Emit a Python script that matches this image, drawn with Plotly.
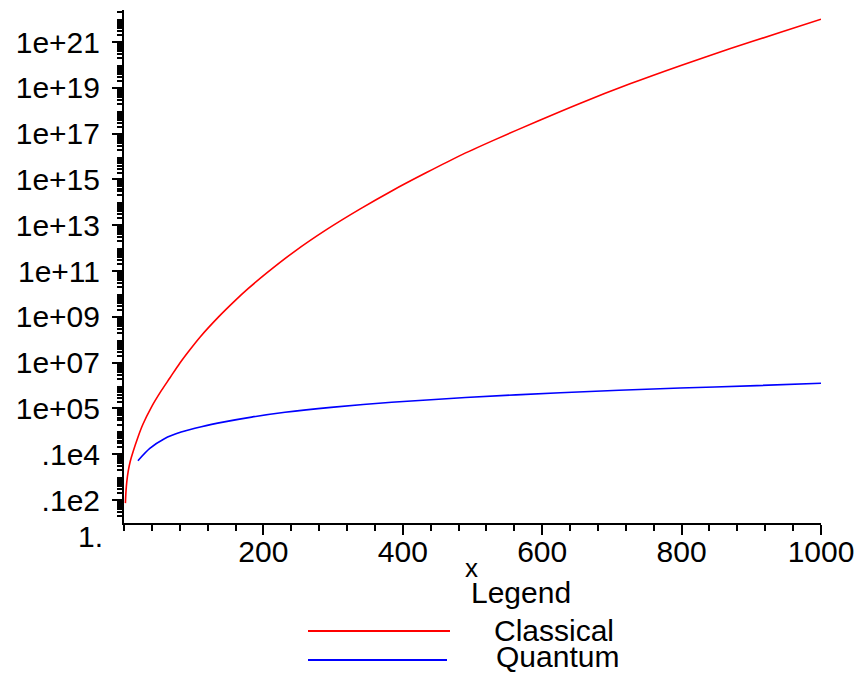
import plotly.graph_objects as go

# ---- data ----
classical_x = [2, 3, 4, 6, 9, 13, 20, 27, 39, 54, 66, 80, 94, 109, 135, 159, 178, 204,
               243, 291, 339, 386, 434, 482, 530, 594, 654, 726, 798, 869, 941, 1000]
classical_y = [7.4, 28, 63, 180, 500, 1.3e3, 5.6e3, 2.0e4, 1.1e5, 6.3e5, 2.2e6, 9.5e6,
               3.5e7, 1.3e8, 9.5e8, 5.0e9, 1.7e10, 7.9e10, 6.6e11, 6.6e12, 5.2e13,
               3.4e14, 2.0e15, 1.1e16, 5.1e16, 3.6e17, 2.1e18, 1.5e19, 9.3e19, 5.1e20,
               2.6e21, 1.0e22]

quantum_x = [20, 37, 58, 82, 111, 144, 183, 231, 297, 384, 490, 626, 798, 908, 1000]
quantum_y = [525, 1.8e3, 4.8e3, 9.3e3, 1.6e4, 2.6e4, 4.2e4, 6.8e4, 1.12e5, 1.86e5,
             3.0e5, 4.9e5, 7.8e5, 1.0e6, 1.26e6]

y_tickvals = [10.0, 1e3, 1e5, 1e7, 1e9, 1e11, 1e13, 1e15, 1e17, 1e19, 1e21]
y_ticktext = [".1e2", ".1e4", "1e+05", "1e+07", "1e+09", "1e+11", "1e+13",
              "1e+15", "1e+17", "1e+19", "1e+21"]
x_tickvals = [200, 400, 600, 800, 1000]
x_ticktext = ["200", "400", "600", "800", "1000"]

series_names = ["Classical", "Quantum"]
series_colors = ["#ff0000", "#0000ff"]

FONT = "Liberation Sans, Arial, sans-serif"

fig = go.Figure()
fig.add_trace(go.Scatter(x=classical_x, y=classical_y, mode="lines", name=series_names[0],
                         line=dict(color=series_colors[0], width=1.6, shape="spline", smoothing=0.8)))
fig.add_trace(go.Scatter(x=quantum_x, y=quantum_y, mode="lines", name=series_names[1],
                         line=dict(color=series_colors[1], width=1.6, shape="spline", smoothing=0.8)))

minor_y = [float(m) * 10.0 ** k for k in range(0, 23) for m in range(2, 10)]

fig.update_layout(
    width=865, height=673,
    margin=dict(l=124, r=44, t=10, b=150),
    paper_bgcolor="white", plot_bgcolor="white",
    showlegend=False,
    font=dict(family=FONT, size=30, color="black"),
    xaxis=dict(range=[0, 1000], showgrid=False, zeroline=False,
               showline=True, linecolor="black", linewidth=2,
               ticks="outside", ticklen=10, tickwidth=2, tickcolor="black",
               tickmode="array", tickvals=x_tickvals, ticktext=x_ticktext,
               ticklabelstandoff=-9,
               minor=dict(dtick=40, ticks="outside", ticklen=6, tickwidth=2,
                          tickcolor="black", showgrid=False)),
    yaxis=dict(type="log", range=[0, 22.4], showgrid=False, zeroline=False,
               showline=True, linecolor="black", linewidth=2,
               ticks="outside", ticklen=10, tickwidth=2, tickcolor="black",
               tickmode="array", tickvals=y_tickvals, ticktext=y_ticktext,
               ticklabelstandoff=6,
               minor=dict(tickmode="array", tickvals=minor_y, ticks="outside",
                          ticklen=5, tickwidth=2, tickcolor="black", showgrid=False)),
)

def px_x(px):
    return (px - 124) / 697.0

def px_y(py):
    return (523 - py) / 513.0

annotations = [
    dict(text="1.", x=px_x(105), y=px_y(537), xanchor="right", yanchor="middle"),
    dict(text="x", x=px_x(471), y=px_y(568), xanchor="center", yanchor="middle",
         font=dict(size=26)),
    dict(text="Legend", x=px_x(521), y=px_y(593), xanchor="center", yanchor="middle"),
    dict(text=series_names[0], x=px_x(492), y=px_y(630), xanchor="left", yanchor="middle"),
    dict(text=series_names[1], x=px_x(494), y=px_y(657), xanchor="left", yanchor="middle"),
]
for a in annotations:
    a.update(xref="paper", yref="paper", showarrow=False)
    fig.add_annotation(**a)

fig.add_shape(type="line", xref="paper", yref="paper", x0=px_x(308), x1=px_x(450),
              y0=px_y(631), y1=px_y(631), line=dict(color=series_colors[0], width=2))
fig.add_shape(type="line", xref="paper", yref="paper", x0=px_x(308), x1=px_x(447),
              y0=px_y(660), y1=px_y(660), line=dict(color=series_colors[1], width=2))

fig.write_html("out.html", config={"displayModeBar": False},
               post_script="document.body.style.margin='0';")
